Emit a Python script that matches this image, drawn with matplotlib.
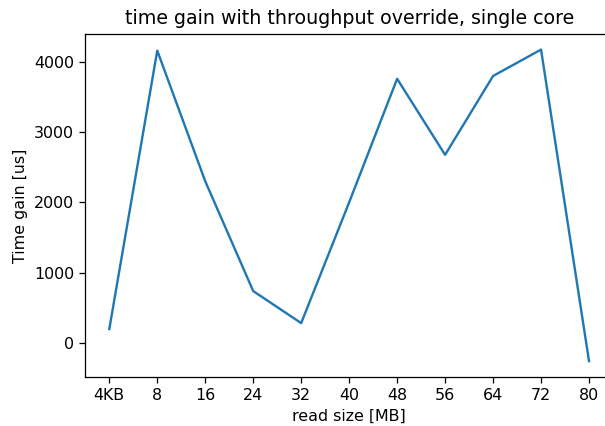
import matplotlib
matplotlib.use("Agg")
import matplotlib.pyplot as plt

labels = ["4KB", "8", "16", "24", "32", "40", "48", "56", "64", "72", "80"]
gain = [200, 4155, 2300, 740, 285, 2000, 3755, 2675, 3795, 4170, -255]

s = 1.14
plt.rcParams.update({
    "font.size": 10 * s,
    "axes.titlesize": 12 * s,
    "axes.linewidth": 0.8 * s,
    "xtick.major.size": 3.5 * s,
    "ytick.major.size": 3.5 * s,
    "xtick.major.width": 0.8 * s,
    "ytick.major.width": 0.8 * s,
    "xtick.major.pad": 3.5 * s,
    "ytick.major.pad": 3.5 * s,
    "axes.labelpad": 4 * s,
    "axes.titlepad": 6 * s,
})

fig = plt.figure(figsize=(6.05, 4.26), dpi=100)
ax = fig.add_axes([85.3/605, 1-376.7/426, (613-85.3)/605, (376.7-34)/426])
ax.plot(range(len(labels)), gain, color="#1f77b4", lw=1.5 * s)
ax.set_xticks(range(len(labels)))
ax.set_xticklabels(labels)
ax.set_yticks([0, 1000, 2000, 3000, 4000])
ax.set_xlabel("read size [MB]")
ax.set_ylabel("Time gain [us]")
ax.set_title("time gain with throughput override, single core")
fig.savefig("out.png", dpi=100)
